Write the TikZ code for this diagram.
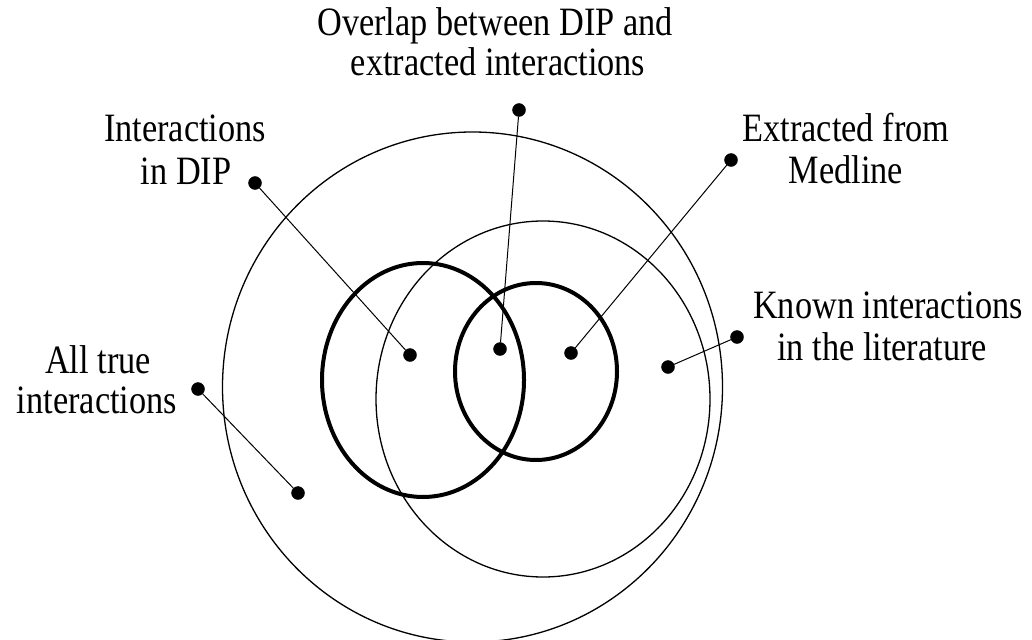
\documentclass[tikz,border=0pt]{standalone}
\usepackage{fontspec}
\usepackage{graphicx}
\setmainfont{Liberation Serif}
\newcommand{\talltxt}[1]{\scalebox{0.98}[1.15]{#1}}
\begin{document}
\begin{tikzpicture}[x=1pt,y=-1pt,
  lbl/.style={anchor=base,inner sep=0pt,font=\fontsize{35}{40}\selectfont},
  dot/.style={circle,fill=black,draw=black,inner sep=0pt,minimum size=13pt},
  thinring/.style={draw=black,line width=1.3pt},
  thickring/.style={draw=black,line width=4pt},
  leader/.style={draw=black,line width=1pt}]
\useasboundingbox (0,0) rectangle (1032,639);
% rings
\draw[thinring] (472.5,387) ellipse [x radius=250, y radius=255];
\draw[thinring] (543,399) ellipse [x radius=167, y radius=178];
\draw[thickring] (423,380) ellipse [x radius=101, y radius=117];
\draw[thickring] (536,371.5) ellipse [x radius=81, y radius=88.5];
% labels
\node[lbl] (ovA) at (495,36) {\talltxt{Overlap between DIP and}};
\node[lbl] (ovB) at (498,76) {\talltxt{extracted interactions}};
\node[lbl] (dipA) at (185,142) {\talltxt{Interactions}};
\node[lbl] (dipB) at (186,184) {\talltxt{in DIP}};
\node[lbl] (medA) at (846,142) {\talltxt{Extracted from}};
\node[lbl] (medB) at (846,183) {\talltxt{Medline}};
\node[lbl] (knA) at (888,318) {\talltxt{Known interactions}};
\node[lbl] (knB) at (882,360) {\talltxt{in the literature}};
\node[lbl] (allA) at (98,373) {\talltxt{All true}};
\node[lbl] (allB) at (97,413) {\talltxt{interactions}};
% dots
\node[dot] (ovS) at (519,110) {};
\node[dot] (ovE) at (500,349) {};
\node[dot] (dipS) at (255,183) {};
\node[dot] (dipE) at (410,355) {};
\node[dot] (medS) at (731,160) {};
\node[dot] (medE) at (571,353) {};
\node[dot] (knS) at (737,337) {};
\node[dot] (knE) at (668,367) {};
\node[dot] (allS) at (198,389) {};
\node[dot] (allE) at (298,493) {};
% leaders
\draw[leader] (ovS) -- (ovE);
\draw[leader] (dipS) -- (dipE);
\draw[leader] (medS) -- (medE);
\draw[leader] (knS) -- (knE);
\draw[leader] (allS) -- (allE);
\end{tikzpicture}
\end{document}
